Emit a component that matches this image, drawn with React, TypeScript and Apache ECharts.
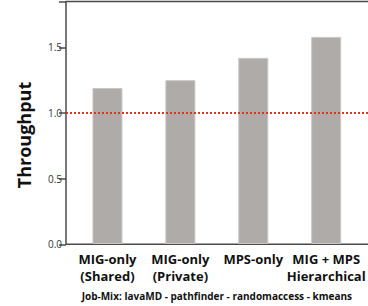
import React, { useEffect, useRef } from "react";
import * as echarts from "echarts";

const categories = ["MIG-only\n(Shared)", "MIG-only\n(Private)", "MPS-only", "MIG + MPS\nHierarchical"];
const throughput = [1.19, 1.25, 1.42, 1.58];
const baseline = 1.0;
const yTicks = [0, 0.5, 1.0, 1.5];
const xTitle = "Job-Mix: lavaMD - pathfinder - randomaccess - kmeans";
const yTitle = "Throughput";

export default function App() {
  const ref = useRef<HTMLDivElement>(null);
  useEffect(() => {
    if (!ref.current) return;
    const chart = echarts.init(ref.current, undefined, { renderer: "svg" });
    const font = "'Open Sans', 'Liberation Sans', sans-serif";
    const axisColor = "#4a4a4a";
    const yMax = 1.85;
    chart.setOption({
      animation: false,
      grid: [
        { left: 66, right: 0, top: 1.5, bottom: 61.7 },
        { left: 71, right: 0, top: 1.5, bottom: 61.7 },
      ],
      xAxis: [
        { type: "value", gridIndex: 0, min: 0, max: 1, show: false },
        {
          type: "category",
          gridIndex: 1,
          data: categories,
          axisLine: { show: false },
          axisTick: { show: false },
          axisLabel: {
            color: "#111",
            fontFamily: font,
            fontWeight: "bold",
            fontSize: 13,
            lineHeight: 16.5,
            margin: 7,
            interval: 0,
          },
          name: xTitle,
          nameLocation: "middle",
          nameGap: 47,
          nameTextStyle: { fontFamily: font, fontWeight: "bold", fontSize: 10, color: "#111" },
        },
      ],
      yAxis: [
        {
          type: "value",
          gridIndex: 0,
          min: 0,
          max: yMax,
          interval: 0.5,
          splitLine: { show: false },
          axisLine: { show: true, lineStyle: { color: axisColor, width: 1.5 } },
          axisTick: { show: true, length: 7, lineStyle: { color: axisColor, width: 1.5 } },
          axisLabel: {
            color: "#333",
            fontFamily: font,
            fontSize: 10,
            margin: 4,
            formatter: (v: number) => (yTicks.indexOf(v) >= 0 ? v.toFixed(1) : ""),
          },
        },
        { type: "value", gridIndex: 1, min: 0, max: yMax, show: false, splitLine: { show: false } },
      ],
      graphic: [
        { type: "line", shape: { x1: 66, y1: 1.5, x2: 368, y2: 1.5 }, style: { stroke: axisColor, lineWidth: 1.5 } },
        { type: "line", shape: { x1: 66, y1: 244.3, x2: 368, y2: 244.3 }, style: { stroke: axisColor, lineWidth: 1.5 } },
        {
          type: "text",
          x: 24,
          y: 135,
          rotation: Math.PI / 2,
          style: {
            text: yTitle,
            fontFamily: font,
            fontWeight: "bold",
            fontSize: 18,
            fill: "#111",
            align: "center",
            verticalAlign: "middle",
          },
        },
      ],
      series: [
        {
          type: "bar",
          xAxisIndex: 1,
          yAxisIndex: 1,
          data: throughput,
          barWidth: 30,
          z: 2,
          itemStyle: { color: "#aeaba8", borderColor: "#c9c7c5", borderWidth: 1 },
        },
        {
          type: "line",
          xAxisIndex: 0,
          yAxisIndex: 0,
          data: [[0, baseline], [1, baseline]],
          symbol: "none",
          silent: true,
          z: 3,
          lineStyle: { color: "#e0302a", type: "dotted", width: 2 },
        },
      ],
    });
    return () => chart.dispose();
  }, []);
  return <div ref={ref} style={{ width: 368, height: 306, position: "absolute", left: 0, top: 0 }} />;
}
